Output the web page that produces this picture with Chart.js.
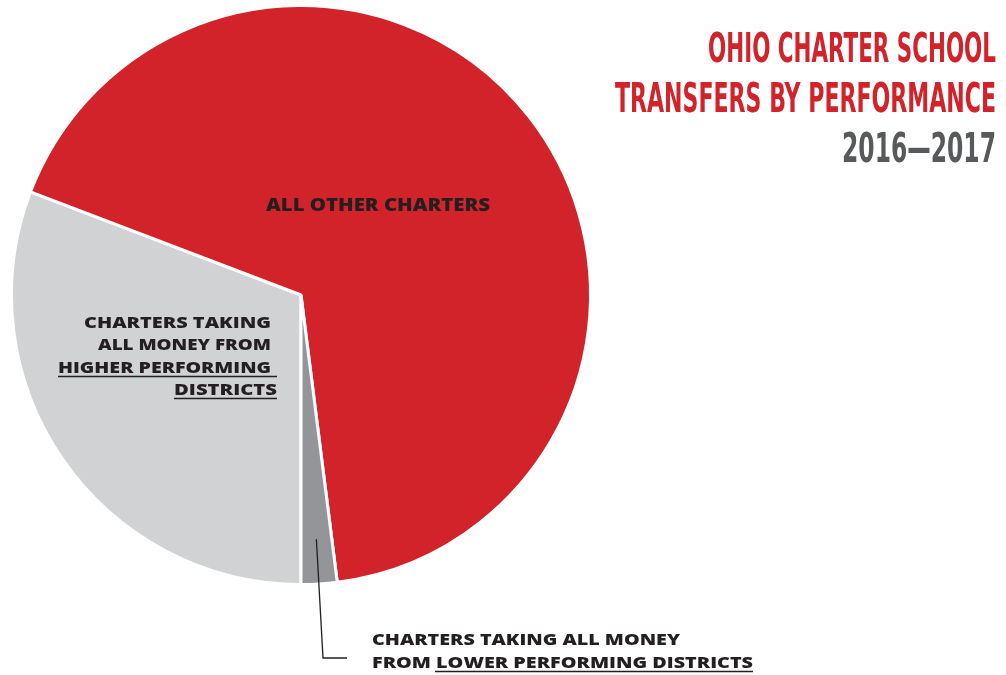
<!DOCTYPE html>
<html>
<head>
<meta charset="utf-8">
<script src="https://cdn.jsdelivr.net/npm/chart.js@4.4.1/dist/chart.umd.min.js"></script>
<style>
  html, body { margin: 0; padding: 0; background: #ffffff; }
  #wrap { position: relative; width: 1006px; height: 675px; }
</style>
</head>
<body>
<div id="wrap"><canvas id="pieChart" width="1006" height="675"></canvas></div>
<script>
// Slices, clockwise starting from straight down
const sliceLabels = [
    'Charters taking all money from higher performing districts',
    'All other charters',
    'Charters taking all money from lower performing districts'
];
const sliceValues = [30.8, 67.2, 2.0];
const sliceColors = ['#d1d2d4', '#d2232a', '#939598'];

const titleLines = ['OHIO CHARTER SCHOOL', 'TRANSFERS BY PERFORMANCE'];
const subtitle = '2016\u20142017';

const labelFont = '"Open Sans", "DejaVu Sans", sans-serif';
const titleFont = '"Liberation Sans Narrow", "DejaVu Sans Condensed", sans-serif';

// write text squeezed/stretched to a given width
function fitText(ctx, text, x, y, width, align) {
    const w = ctx.measureText(text).width;
    const sx = width / w;
    ctx.save();
    ctx.translate(x, y);
    ctx.scale(sx, 1);
    ctx.textAlign = align;
    ctx.fillText(text, 0, 0);
    ctx.restore();
}

function underline(ctx, x1, x2, y) {
    ctx.save();
    ctx.strokeStyle = '#231f20';
    ctx.lineWidth = 1.3;
    ctx.beginPath();
    ctx.moveTo(x1, y);
    ctx.lineTo(x2, y);
    ctx.stroke();
    ctx.restore();
}

const textPlugin = {
    id: 'textPlugin',
    afterDraw(chart) {
        const ctx = chart.ctx;
        ctx.save();
        ctx.textBaseline = 'alphabetic';

        // title
        ctx.fillStyle = '#d2232a';
        ctx.font = 'bold 40px ' + titleFont;
        fitText(ctx, titleLines[0], 996, 62, 288, 'right');
        fitText(ctx, titleLines[1], 996, 112, 381, 'right');
        ctx.fillStyle = '#58595b';
        fitText(ctx, subtitle, 996, 162, 154, 'right');

        // slice labels
        ctx.fillStyle = '#231f20';
        ctx.font = '800 17px ' + labelFont;
        fitText(ctx, 'ALL OTHER CHARTERS', 266, 211, 224, 'left');

        ctx.font = '800 16px ' + labelFont;
        fitText(ctx, 'CHARTERS TAKING', 271, 328, 187, 'right');
        fitText(ctx, 'ALL MONEY FROM', 271, 350, 173, 'right');
        fitText(ctx, 'HIGHER PERFORMING', 271, 373, 213, 'right');
        underline(ctx, 58, 277, 376.5);
        fitText(ctx, 'DISTRICTS', 277, 395, 103, 'right');
        underline(ctx, 174, 277, 398.5);

        fitText(ctx, 'CHARTERS TAKING ALL MONEY', 372, 645, 308, 'left');
        fitText(ctx, 'FROM LOWER PERFORMING DISTRICTS', 372, 668, 381, 'left');
        underline(ctx, 435, 753, 671.5);

        // leader line from the small slice
        const arc = chart.getDatasetMeta(0).data[2];
        const mid = (arc.startAngle + arc.endAngle) / 2;
        const r = arc.outerRadius * 0.845;
        const sx = arc.x + Math.cos(mid) * r;
        const sy = arc.y + Math.sin(mid) * r;
        ctx.strokeStyle = '#231f20';
        ctx.lineWidth = 1.3;
        ctx.beginPath();
        ctx.moveTo(sx, sy);
        ctx.lineTo(323, 658);
        ctx.lineTo(347, 658);
        ctx.stroke();
        ctx.restore();
    }
};

new Chart(document.getElementById('pieChart').getContext('2d'), {
    type: 'pie',
    data: {
        labels: sliceLabels,
        datasets: [{
            data: sliceValues,
            backgroundColor: sliceColors,
            borderColor: '#ffffff',
            borderWidth: 3
        }]
    },
    options: {
        responsive: false,
        animation: false,
        rotation: 180,
        layout: {
            padding: { left: 10, top: 4, right: 414, bottom: 89 }
        },
        plugins: {
            legend: { display: false },
            tooltip: { enabled: false }
        },
        events: []
    },
    plugins: [textPlugin]
});
</script>
</body>
</html>
